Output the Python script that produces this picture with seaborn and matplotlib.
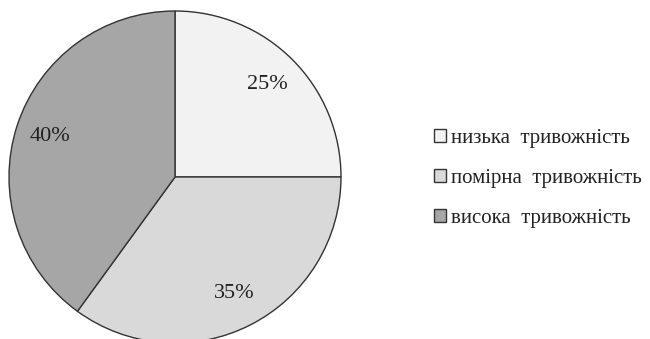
import matplotlib
matplotlib.use("Agg")
import matplotlib.pyplot as plt
import seaborn as sns
from matplotlib.patches import Patch

categories = ["низька  тривожність", "помірна  тривожність", "висока  тривожність"]
values = [25, 35, 40]
colors = ["#f2f2f2", "#d9d9d9", "#a6a6a6"]

sns.set_theme(style="white")
plt.rcParams['font.family'] = ['Liberation Serif', 'DejaVu Serif']

fig = plt.figure(figsize=(6.5, 3.39), dpi=100)
ax = fig.add_axes([0, 0, 1, 1])

wedges, texts, autotexts = ax.pie(
    values, colors=colors, startangle=90, counterclock=False,
    center=(175, 162), radius=166, autopct=lambda p: f"{p:.0f}%",
    pctdistance=0.79, frame=True,
    wedgeprops=dict(edgecolor="#333333", linewidth=1.0),
    textprops=dict(fontsize=16, color="#222222"))
ax.set_xlim(0, 650)
ax.set_ylim(0, 339)
ax.axis("off")

handles = [Patch(facecolor=c, edgecolor="#333333", linewidth=1.0) for c in colors]
fig.legend(handles, categories, loc="center left", bbox_to_anchor=(0.668, 0.474),
           frameon=False, fontsize=15, handlelength=0.55, handleheight=0.55,
           handletextpad=0.25, labelspacing=1.0, borderpad=0, borderaxespad=0,
           labelcolor="#222222")

fig.savefig("out.png", dpi=100)
